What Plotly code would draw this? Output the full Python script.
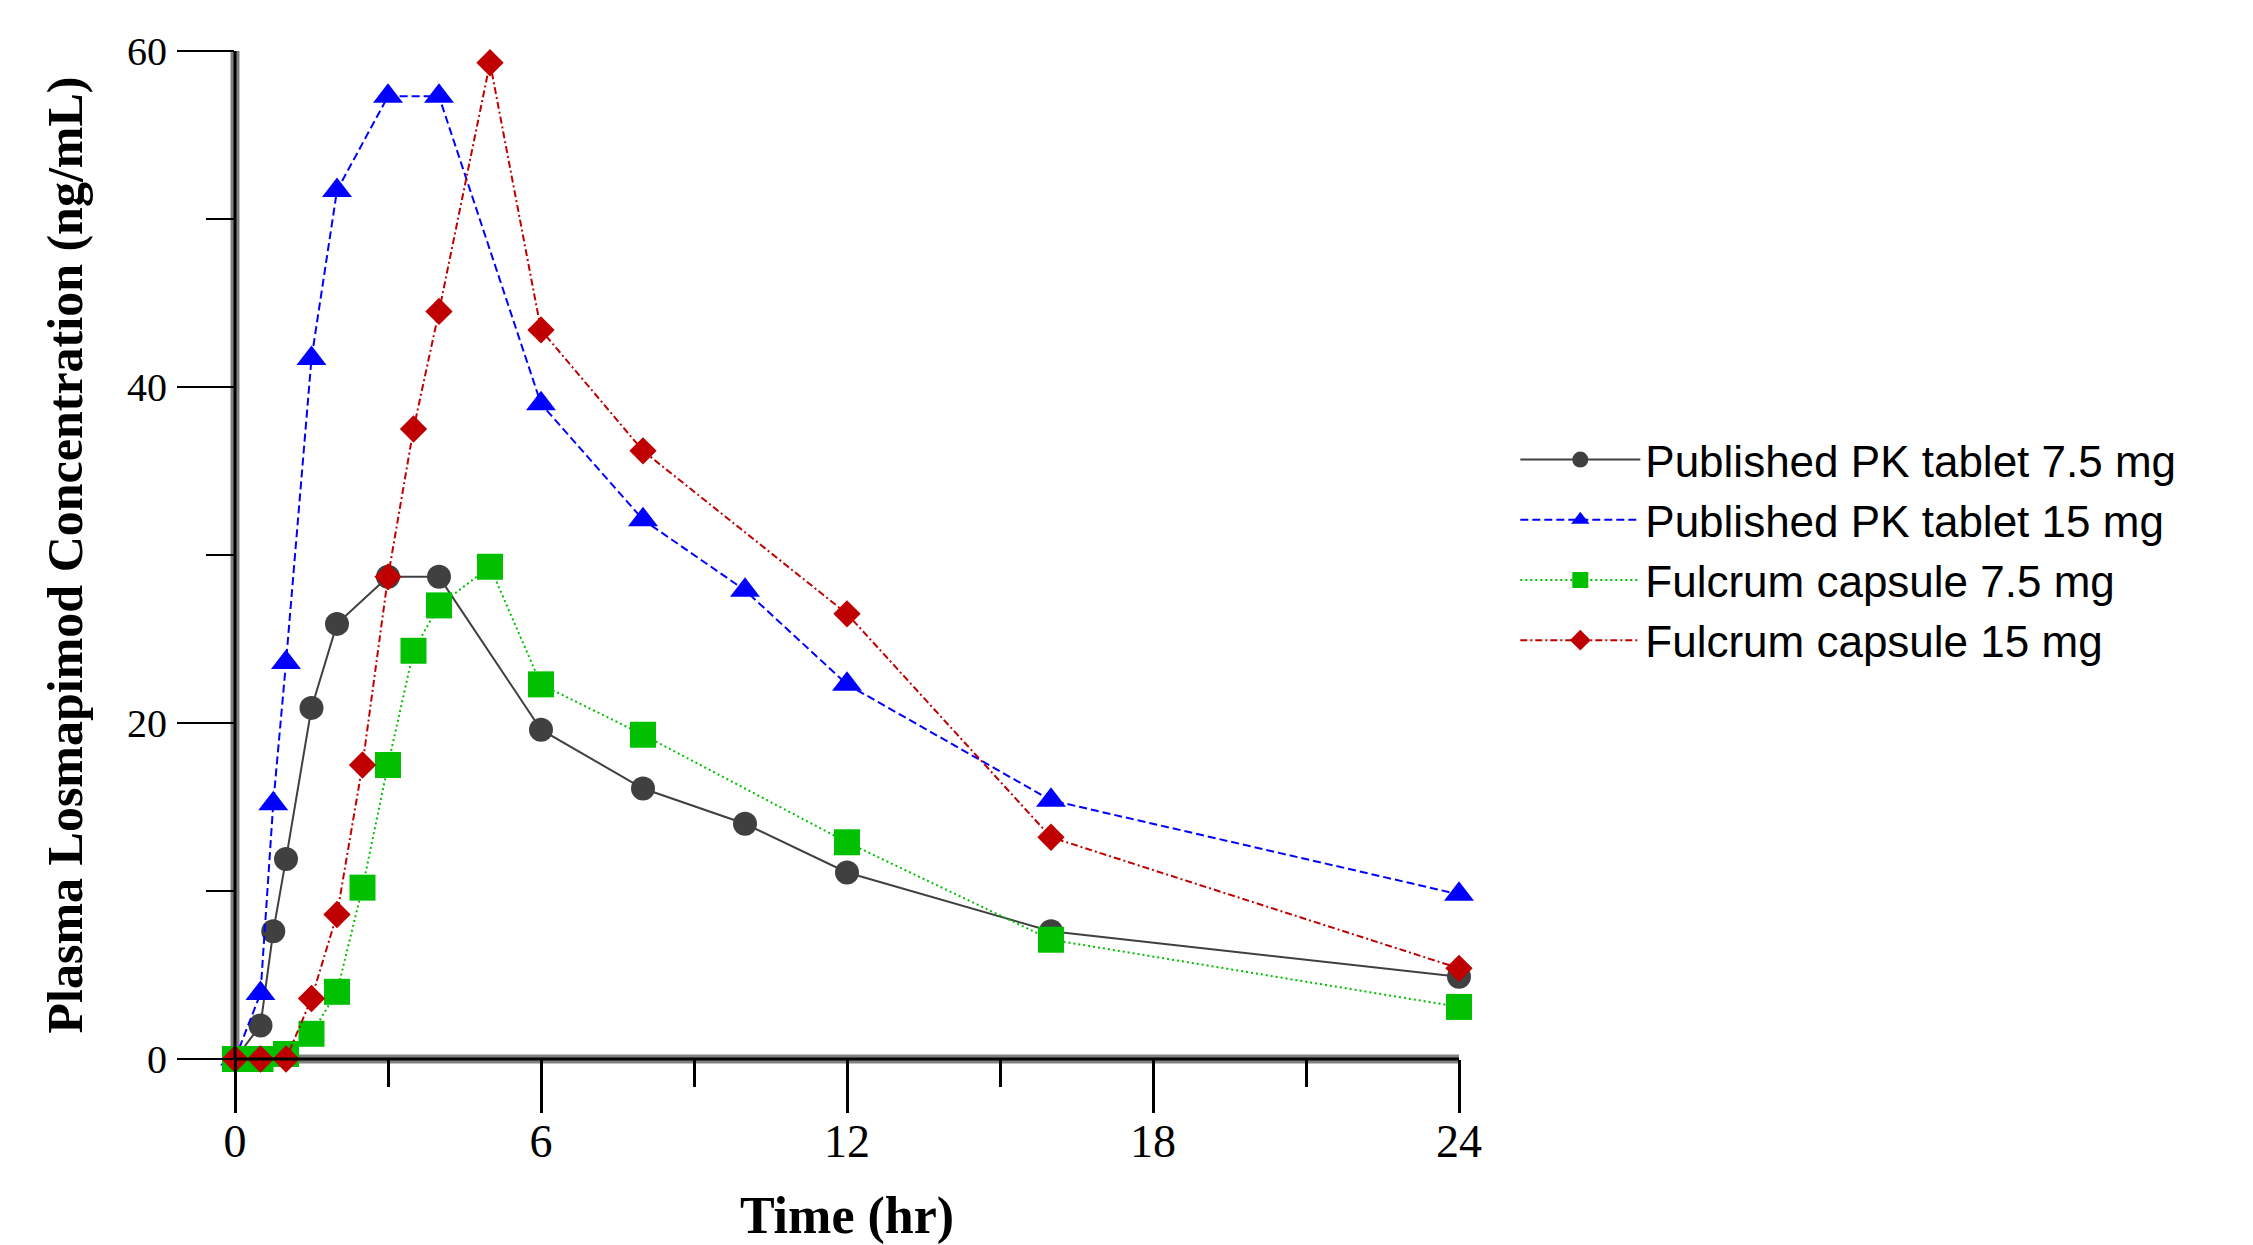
import plotly.graph_objects as go

# ---- data ----
t_pub_75 = [0, 0.5, 0.75, 1, 1.5, 2, 3, 4, 6, 8, 10, 12, 16, 24]
c_pub_75 = [0, 2.0, 7.6, 11.9, 20.9, 25.9, 28.7, 28.7, 19.6, 16.1, 14.0, 11.1, 7.6, 4.9]

t_pub_15 = [0, 0.5, 0.75, 1, 1.5, 2, 3, 4, 6, 8, 10, 12, 16, 24]
c_pub_15 = [0, 3.9, 15.2, 23.6, 41.7, 51.7, 57.3, 57.3, 39.0, 32.1, 27.9, 22.3, 15.4, 9.8]

t_ful_75 = [0, 0.5, 1, 1.5, 2, 2.5, 3, 3.5, 4, 5, 6, 8, 12, 16, 24]
c_ful_75 = [0, 0, 0.3, 1.5, 4.0, 10.2, 17.5, 24.3, 27.0, 29.3, 22.3, 19.3, 12.9, 7.1, 3.1]

t_ful_15 = [0, 0.5, 1, 1.5, 2, 2.5, 3, 3.5, 4, 5, 6, 8, 12, 16, 24]
c_ful_15 = [0, 0, 0, 3.6, 8.6, 17.5, 28.7, 37.5, 44.5, 59.3, 43.4, 36.2, 26.5, 13.2, 5.4]

series_names = ["Published PK tablet 7.5 mg", "Published PK tablet 15 mg",
                "Fulcrum capsule 7.5 mg", "Fulcrum capsule 15 mg"]

x_ticks = [0, 6, 12, 18, 24]
x_minor = [3, 9, 15, 21]
y_ticks = [0, 20, 40, 60]
y_minor = [10, 30, 50]

# ---- figure ----
fig = go.Figure()

styles = [
    dict(color="#404040", dash="solid", symbol="circle", size=24),
    dict(color="#0000ff", dash="8px,4px", symbol="triangle-up", size=26),
    dict(color="#00c000", dash="2px,3px", symbol="square", size=26),
    dict(color="#c00000", dash="7px,3px,2px,3px", symbol="diamond", size=21),
]
data = [(t_pub_75, c_pub_75), (t_pub_15, c_pub_15), (t_ful_75, c_ful_75), (t_ful_15, c_ful_15)]

for (tx, cy), name, st in zip(data, series_names, styles):
    fig.add_trace(go.Scatter(
        x=tx, y=cy, name=name, mode="lines+markers",
        line=dict(color=st["color"], dash=st["dash"], width=2),
        marker=dict(color=st["color"], symbol=st["symbol"], size=st["size"], line=dict(width=0)),
        cliponaxis=False,
    ))

# axis lines: grey band with black centre line
fig.add_shape(type="rect", xref="paper", yref="paper", xsizemode="pixel", xanchor=0,
              x0=-4.5, x1=4.5, y0=0, y1=1, fillcolor="#808080", line=dict(width=0), layer="below")
fig.add_shape(type="rect", xref="paper", yref="paper", ysizemode="pixel", yanchor=0,
              y0=-4.5, y1=4.5, x0=0, x1=1, fillcolor="#808080", line=dict(width=0), layer="below")
fig.add_shape(type="rect", xref="paper", yref="paper", xsizemode="pixel", xanchor=0,
              x0=-1.5, x1=1.5, y0=0, y1=1, fillcolor="black", line=dict(width=0), layer="above")
fig.add_shape(type="rect", xref="paper", yref="paper", ysizemode="pixel", yanchor=0,
              y0=-1.5, y1=1.5, x0=0, x1=1, fillcolor="black", line=dict(width=0), layer="above")

serif = "Liberation Serif"

fig.update_layout(
    width=2245, height=1237,
    paper_bgcolor="white", plot_bgcolor="white",
    margin=dict(l=227, r=794, t=43, b=186, autoexpand=False),
    showlegend=True,
    legend=dict(
        x=1.046, y=0.505, xanchor="left", yanchor="middle",
        font=dict(family="Liberation Sans", size=44, color="black"),
        itemwidth=120, tracegroupgap=0, bgcolor="rgba(0,0,0,0)",
    ),
    xaxis=dict(
        range=[0, 24], tickvals=x_ticks, ticktext=[str(v) for v in x_ticks],
        showgrid=False, zeroline=False, showline=False, automargin=False,
        ticks="outside", ticklen=53, tickwidth=3, tickcolor="black",
        minor=dict(tickvals=x_minor, ticks="outside", ticklen=27, tickwidth=3, tickcolor="black"),
        tickfont=dict(family=serif, size=46, color="black"),
        ticklabelstandoff=-11,
        title=dict(text="<b>Time (hr)</b>", font=dict(family=serif, size=52, color="black"), standoff=40),
    ),
    yaxis=dict(
        range=[0, 60], tickvals=y_ticks, ticktext=[str(v) for v in y_ticks],
        showgrid=False, zeroline=False, showline=False, automargin=False,
        ticks="outside", ticklen=57, tickwidth=2, tickcolor="black",
        minor=dict(tickvals=y_minor, ticks="outside", ticklen=28, tickwidth=2, tickcolor="black"),
        tickfont=dict(family=serif, size=40, color="black"),
        ticklabelstandoff=2,
        title=dict(text="<b>Plasma Losmapimod Concentration (ng/mL)</b>",
                   font=dict(family=serif, size=50, color="black"), standoff=28),
    ),
)

fig.write_html("out.html")
